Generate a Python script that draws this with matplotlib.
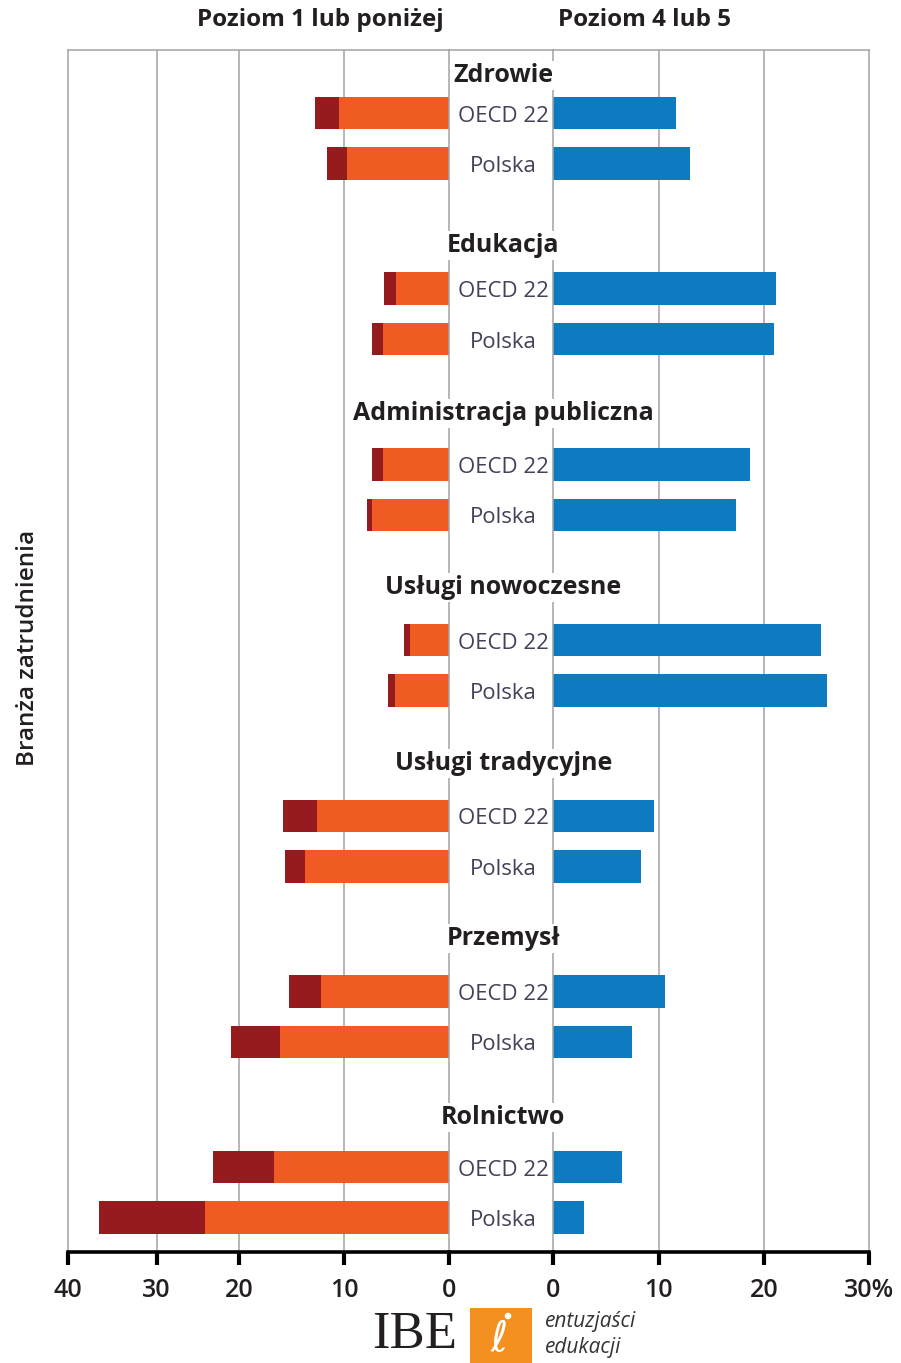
import numpy as np
import matplotlib
matplotlib.use("Agg")
import matplotlib.pyplot as plt
from matplotlib.patches import Rectangle, Circle

plt.rcParams['font.family'] = ['Open Sans', 'DejaVu Sans']

# ---------------- data ----------------
categories = ['Zdrowie', 'Edukacja', 'Administracja publiczna', 'Usługi nowoczesne',
              'Usługi tradycyjne', 'Przemysł', 'Rolnictwo']
groups = ['OECD 22', 'Polska']
# Poziom 1 (orange) and poniżej poziomu 1 (dark red) segments, in %
level1_oecd = [10.5, 5.1, 6.3, 3.7, 12.6, 12.2, 16.7]
below1_oecd = [2.3, 1.1, 1.0, 0.6, 3.2, 3.0, 6.4]
level1_pl = [9.7, 6.3, 7.3, 5.2, 13.7, 16.1, 24.1]
below1_pl = [1.9, 1.0, 0.5, 0.6, 1.9, 4.9, 12.4]
# Poziom 4 lub 5 (blue), in %
level45_oecd = [11.7, 21.2, 18.7, 25.4, 9.6, 10.6, 6.5]
level45_pl = [13.0, 21.0, 17.4, 26.0, 8.3, 7.5, 2.9]
left_ticks = [40, 30, 20, 10, 0]
left_ticklabels = ['40', '30', '20', '10', '0']
right_ticks = [0, 10, 20, 30]
right_ticklabels = ['0', '10', '20', '30%']
header_left = 'Poziom 1 lub poniżej'
header_right = 'Poziom 4 lub 5'
ylabel = 'Branża zatrudnienia'

# ---------------- style / layout ----------------
W, H = 901, 1363
ORANGE = '#F05A23'
DARK = '#951B1E'
BLUE = '#0E7BC0'
GRID = '#A3A3A3'
TXT = '#231F20'
LBL = '#463F58'

def fx(px):
    return px / W

def fy(py):
    return 1 - py / H

x40, x0L, x0R, x30R = 67.7, 449.3, 553.3, 869.0
ytop, ybot = 50.0, 1252.0

# left axis: the original chart's tick spacing is uneven; reproduce via a piecewise scale
scale_vals = [0, 10, 20, 30, 40]
scale_pos = [0, 105.3, 210.3, 292.6, 381.6]
fwd = lambda v: np.interp(v, scale_vals, scale_pos)
inv = lambda p: np.interp(p, scale_pos, scale_vals)

gstep = 175.7
pos_oecd = np.arange(len(categories), dtype=float)
pos_pl = pos_oecd + 50.5 / gstep
bar_h = 32.5 / gstep
ylim = ((ybot - 113) / gstep, (ytop - 113) / gstep)
title_off = [-0.228, -0.262, -0.307, -0.319, -0.313, -0.319, -0.302]
txt_dy = 3.0 / gstep

fig = plt.figure(figsize=(W / 100, H / 100), dpi=100)

axL = fig.add_axes([fx(x40), fy(ybot), fx(x0L - x40), (ybot - ytop) / H])
axR = fig.add_axes([fx(x0R), fy(ybot), fx(x30R - x0R), (ybot - ytop) / H])
axC = fig.add_axes([fx(x0L), fy(ybot), fx(x0R - x0L), (ybot - ytop) / H])

# left panel
axL.set_xscale('function', functions=(fwd, inv))
axL.set_xlim(40, 0)
axL.set_ylim(*ylim)
for v in [10, 20, 30]:
    axL.axvline(v, color=GRID, lw=1.1, zorder=0)
axL.barh(pos_oecd, level1_oecd, height=bar_h, color=ORANGE, zorder=2)
axL.barh(pos_oecd, below1_oecd, left=level1_oecd, height=bar_h, color=DARK, zorder=2)
axL.barh(pos_pl, level1_pl, height=bar_h, color=ORANGE, zorder=2)
axL.barh(pos_pl, below1_pl, left=level1_pl, height=bar_h, color=DARK, zorder=2)
axL.set_xticks(left_ticks)
axL.set_xticklabels(left_ticklabels)
axL.xaxis.set_minor_locator(matplotlib.ticker.NullLocator())

# right panel
axR.set_xlim(0, 30)
axR.set_ylim(*ylim)
for v in [10, 20]:
    axR.axvline(v, color=GRID, lw=1.1, zorder=0)
axR.barh(pos_oecd, level45_oecd, height=bar_h, color=BLUE, zorder=2)
axR.barh(pos_pl, level45_pl, height=bar_h, color=BLUE, zorder=2)
axR.set_xticks(right_ticks)
axR.set_xticklabels(right_ticklabels)

for ax in (axL, axR):
    ax.set_yticks([])
    for s in ('left', 'right', 'top'):
        ax.spines[s].set_color(GRID)
        ax.spines[s].set_linewidth(1.1)
    ax.spines['bottom'].set_color('black')
    ax.spines['bottom'].set_linewidth(2.6)
    ax.tick_params(axis='x', direction='out', length=9, width=3, color='black',
                   pad=10, labelsize=18, labelcolor=TXT)
    for lab in ax.get_xticklabels():
        lab.set_fontweight('semibold')

# center band with labels
axC.set_xlim(0, 1)
axC.set_ylim(*ylim)
axC.patch.set_visible(False)
axC.set_xticks([])
axC.set_yticks([])
for s in ('left', 'right'):
    axC.spines[s].set_visible(False)
axC.spines['top'].set_color(GRID)
axC.spines['top'].set_linewidth(1.1)
axC.spines['bottom'].set_color('black')
axC.spines['bottom'].set_linewidth(2.6)

for i, cat in enumerate(categories):
    axC.text(0.52, pos_oecd[i] + title_off[i] + txt_dy, cat, ha='center', va='center',
             fontsize=18, fontweight='bold', color=TXT, clip_on=False,
             bbox=dict(facecolor='white', edgecolor='none', pad=1.5), zorder=5)
    axC.text(0.52, pos_oecd[i] + txt_dy, groups[0], ha='center', va='center',
             fontsize=16, color=LBL, clip_on=False)
    axC.text(0.52, pos_pl[i] + txt_dy, groups[1], ha='center', va='center',
             fontsize=16, color=LBL, clip_on=False)

# headers
fig.text(fx(320.5), fy(20), header_left, ha='center', va='center',
         fontsize=17.5, fontweight='bold', color=TXT)
fig.text(fx(644.5), fy(20), header_right, ha='center', va='center',
         fontsize=17.5, fontweight='bold', color=TXT)

# y label
fig.text(fx(28), fy(648), ylabel, rotation=90, ha='center', va='center',
         fontsize=17.5, fontweight='semibold', color=TXT)

# logo
fig.text(fx(415), fy(1335), 'IBE', ha='center', va='center', fontsize=38,
         family=['Liberation Serif', 'DejaVu Serif'], color='#231F20')
logo_ax = fig.add_axes([fx(470), fy(1363), fx(62), 55 / H])
logo_ax.set_xlim(0, 62)
logo_ax.set_ylim(0, 55)
logo_ax.axis('off')
logo_ax.add_patch(Rectangle((0, 0), 62, 55, color='#F39020'))
logo_ax.text(29, 24, 'ℓ', ha='center', va='center', fontsize=30, color='white',
             family=['DejaVu Sans'])
logo_ax.add_patch(Circle((38, 47), 2.6, color='white'))
fig.text(fx(545), fy(1321), 'entuzjaści', ha='left', va='center', fontsize=15,
         style='italic', color='#333333')
fig.text(fx(545), fy(1347), 'edukacji', ha='left', va='center', fontsize=15,
         style='italic', color='#333333')

fig.savefig('out.png', dpi=100)
